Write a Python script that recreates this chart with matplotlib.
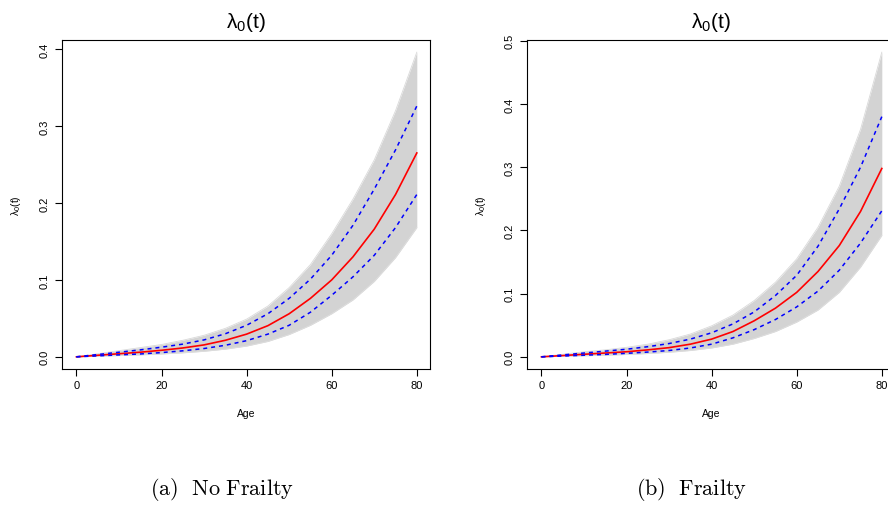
import numpy as np
import matplotlib
matplotlib.use("Agg")
import matplotlib.pyplot as plt

plt.rcParams['font.family'] = ['Liberation Sans', 'DejaVu Sans']
plt.rcParams['mathtext.fontset'] = 'custom'
plt.rcParams['mathtext.rm'] = 'Liberation Sans'
plt.rcParams['mathtext.it'] = 'Liberation Sans:italic'

age = [0, 5, 10, 15, 20, 25, 30, 35, 40, 45, 50, 55, 60, 65, 70, 75, 80]

# (a) no frailty
nf_mean = [0, .0020, .0040, .0060, .0085, .0115, .0155, .0215, .0295, .0405, .0560, .0760, .1000, .1300, .1660, .2110, .2650]
nf_upper = [0, .0030, .0060, .0090, .0125, .0165, .0220, .0300, .0410, .0560, .0760, .1010, .1320, .1710, .2180, .2690, .3260]
nf_lower = [0, .0012, .0025, .0037, .0055, .0078, .0108, .0150, .0210, .0295, .0410, .0580, .0800, .1040, .1320, .1680, .2110]
nf_band_hi = [0, .0040, .0080, .0120, .0160, .0215, .0280, .0370, .0490, .0660, .0900, .1200, .1600, .2050, .2560, .3200, .3960]
nf_band_lo = [0, .0008, .0016, .0025, .0037, .0052, .0072, .0100, .0140, .0200, .0290, .0410, .0560, .0740, .0980, .1290, .1680]

# (b) frailty
fr_mean = [0, .0020, .0040, .0060, .0080, .0110, .0145, .0200, .0280, .0400, .0570, .0770, .1020, .1350, .1760, .2300, .2980]
fr_upper = [0, .0030, .0060, .0090, .0120, .0160, .0210, .0280, .0380, .0520, .0710, .0970, .1290, .1750, .2340, .3000, .3800]
fr_lower = [0, .0012, .0025, .0038, .0055, .0075, .0100, .0140, .0200, .0300, .0430, .0590, .0790, .1040, .1370, .1800, .2310]
fr_band_hi = [0, .0040, .0080, .0110, .0150, .0200, .0270, .0360, .0490, .0660, .0890, .1180, .1550, .2050, .2700, .3600, .4820]
fr_band_lo = [0, .0008, .0016, .0025, .0037, .0052, .0072, .0100, .0140, .0200, .0290, .0400, .0550, .0740, .1020, .1420, .1920]

x_ticks = [0, 20, 40, 60, 80]


def draw_panel(ax, mean, upper, lower, band_hi, band_lo, y_top, y_ticks):
    ax.fill_between(age, band_lo, band_hi, color='#d3d3d3', lw=0)
    ax.plot(age, band_hi, color='#d9d9d9', lw=0.6)
    ax.plot(age, band_lo, color='#dedede', lw=0.6)
    ax.plot(age, mean, color='red', lw=1.2)
    ax.plot(age, upper, color='blue', lw=1.1, ls=(0, (2.6, 2.6)))
    ax.plot(age, lower, color='blue', lw=1.1, ls=(0, (2.6, 2.6)))

    ax.set_xlim(-3.4, 83.1)
    ax.set_ylim(-0.04 * y_top, 1.04 * y_top)
    ax.set_xticks(x_ticks)
    ax.set_yticks(y_ticks)
    ax.set_yticklabels([f"{v:.1f}" for v in y_ticks], rotation=90, va='center')
    ax.tick_params(axis='both', direction='out', length=5, width=0.8, labelsize=8)
    ax.tick_params(axis='x', pad=3)
    ax.tick_params(axis='y', pad=4)
    for s in ax.spines.values():
        s.set_linewidth(0.8)

    ax.set_xlabel('Age', fontsize=7.5, labelpad=13)
    ax.set_ylabel(r'$\mathregular{\lambda_0(t)}$', fontsize=7.5, labelpad=12)
    ax.set_title(r'$\mathregular{\lambda_0(t)}$', fontsize=15, pad=9)


fig = plt.figure(figsize=(8.88, 5.10), dpi=100)
ax1 = fig.add_axes([62 / 888, 1 - 370 / 510, 368 / 888, 329 / 510])
ax2 = fig.add_axes([527 / 888, 1 - 370 / 510, 368 / 888, 329 / 510])

draw_panel(ax1, nf_mean, nf_upper, nf_lower, nf_band_hi, nf_band_lo, 0.396, [0.0, 0.1, 0.2, 0.3, 0.4])
draw_panel(ax2, fr_mean, fr_upper, fr_lower, fr_band_hi, fr_band_lo, 0.482, [0.0, 0.1, 0.2, 0.3, 0.4, 0.5])

fig.text(222 / 888, 1 - 490 / 510, r'$\mathrm{(a)\ \ No\ Frailty}$', ha='center', va='center',
         fontsize=16, math_fontfamily='cm')
fig.text(692 / 888, 1 - 490 / 510, r'$\mathrm{(b)\ \ Frailty}$', ha='center', va='center',
         fontsize=16, math_fontfamily='cm')

fig.savefig('out.png', dpi=100)
